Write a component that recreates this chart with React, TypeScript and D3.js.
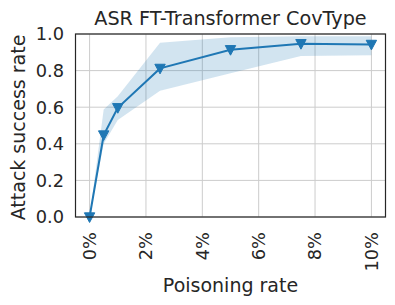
import React from "react";
import * as d3 from "d3";

const rates = [0, 0.5, 1, 2.5, 5, 7.5, 10];
const asrMean = [0, 0.448, 0.597, 0.812, 0.914, 0.947, 0.943];
const asrUpper = [0, 0.587, 0.66, 0.952, 0.982, 0.988, 0.988];
const asrLower = [0, 0.40, 0.53, 0.69, 0.785, 0.88, 0.884];
const xTicks = [0, 2, 4, 6, 8, 10];
const yTicks = [0, 0.2, 0.4, 0.6, 0.8, 1.0];

const W = 395, H = 305;
const L = 75.5, R = 385.5, T = 34, B = 217;
const FONT = "DejaVu Sans, sans-serif";
const TXT = "#262626";
const BLUE = "#1f77b4";

export default function App() {
  const x = d3.scaleLinear().domain([-0.5, 10.5]).range([L, R]);
  const y = d3.scaleLinear().domain([0, 1]).range([B, T]);
  const band = d3.area<number>()
    .x((_, i) => x(rates[i]))
    .y0((_, i) => y(asrLower[i]))
    .y1((_, i) => y(asrUpper[i]))(rates) || "";
  const line = d3.line<number>()
    .x((d) => x(d))
    .y((_, i) => y(asrMean[i]))(rates) || "";
  const tri = (cx: number, cy: number) => {
    const s = 5.2;
    return `M${cx - s},${cy - s * 0.8}L${cx + s},${cy - s * 0.8}L${cx},${cy + s * 1.05}Z`;
  };
  return (
    <svg width={W} height={H} style={{ position: "absolute", left: 0, top: 0 }} fontFamily={FONT}>
      <rect width={W} height={H} fill="#fff" />
      {xTicks.map((t) => (
        <line key={"gx" + t} x1={x(t)} x2={x(t)} y1={T} y2={B} stroke="#cccccc" strokeWidth={1} />
      ))}
      {yTicks.map((t) => (
        <line key={"gy" + t} x1={L} x2={R} y1={y(t)} y2={y(t)} stroke="#cccccc" strokeWidth={1} />
      ))}
      <path d={band} fill={BLUE} fillOpacity={0.2} />
      <path d={line} fill="none" stroke={BLUE} strokeWidth={2} />
      {rates.map((r, i) => (
        <path key={"m" + i} d={tri(x(r), y(asrMean[i]))} fill={BLUE} stroke={BLUE} strokeWidth={1} />
      ))}
      <rect x={L} y={T} width={R - L} height={B - T} fill="none" stroke={TXT} strokeWidth={1.2} />
      {yTicks.map((t) => (
        <text key={"ty" + t} x={64} y={y(t)} dy="0.36em" textAnchor="end" fontSize={17.8} fill={TXT}>
          {t.toFixed(1)}
        </text>
      ))}
      {xTicks.map((t) => (
        <text key={"tx" + t} transform={`translate(${x(t)},${B + 15}) rotate(-90)`} dy="0.36em" textAnchor="end" fontSize={17.8} fill={TXT}>
          {t + "%"}
        </text>
      ))}
      <text x={(L + R) / 2} y={25} textAnchor="middle" fontSize={19.2} fill={TXT}>
        ASR FT-Transformer CovType
      </text>
      <text x={(L + R) / 2} y={292} textAnchor="middle" fontSize={19} fill={TXT}>
        Poisoning rate
      </text>
      <text transform={`translate(24.5,${(T + B) / 2 + 2}) rotate(-90)`} textAnchor="middle" fontSize={19} fill={TXT}>
        Attack success rate
      </text>
    </svg>
  );
}
